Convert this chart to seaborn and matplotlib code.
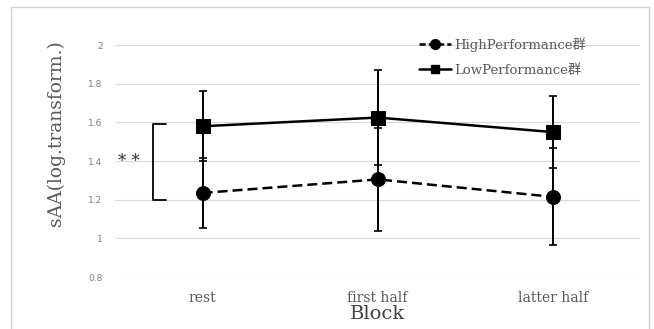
import pandas as pd
import matplotlib
matplotlib.use('Agg')
import matplotlib.pyplot as plt
from matplotlib.lines import Line2D
from matplotlib.patches import Rectangle
import seaborn as sns

blocks = ['rest', 'first half', 'latter half']
high_mean = [1.235, 1.305, 1.215]
high_sd = [0.18, 0.265, 0.25]
low_mean = [1.58, 1.625, 1.55]
low_sd = [0.18, 0.245, 0.185]
groups = ['HighPerformance群', 'LowPerformance群']

sns.set_theme(style='white')
plt.rcParams['font.family'] = ['DejaVu Serif', 'Noto Sans CJK JP']

df = pd.DataFrame({
    'x': list(range(3)) * 2,
    'sAA': high_mean + low_mean,
    'group': [groups[0]] * 3 + [groups[1]] * 3,
})

fig = plt.figure(figsize=(6.54, 3.29), dpi=100)
ax = fig.add_axes([0.176, 0.158, 0.803, 0.705])

# grid
for y in [0.8, 1.0, 1.2, 1.4, 1.6, 1.8, 2.0]:
    ax.axhline(y, color='#d9d9d9', linewidth=0.8, zorder=0)

# error bars (SD)
ax.errorbar(range(3), high_mean, yerr=high_sd, fmt='none', ecolor='black',
            elinewidth=1.4, capsize=3, capthick=1.2, zorder=2)
ax.errorbar(range(3), low_mean, yerr=low_sd, fmt='none', ecolor='black',
            elinewidth=1.4, capsize=3, capthick=1.2, zorder=2)

sns.lineplot(data=df, x='x', y='sAA', hue='group', style='group',
             palette=['black', 'black'], markers=['o', 's'],
             dashes=[(4, 2), ''], markersize=10, linewidth=1.8,
             markeredgecolor='black', legend=False, ax=ax, zorder=3)

ax.set_xlim(-0.5, 2.5)
ax.set_ylim(0.8, 2.0)
ax.set_xticks(range(3))
ax.set_xticklabels(blocks, fontsize=10, color='#595959')
ax.set_yticks([0.8, 1.0, 1.2, 1.4, 1.6, 1.8, 2.0])
ax.set_yticklabels(['0.8', '1', '1.2', '1.4', '1.6', '1.8', '2'],
                   fontsize=6.5, color='#7f7f7f', family='DejaVu Sans')
ax.tick_params(axis='both', length=0)
ax.tick_params(axis='x', pad=10)
ax.tick_params(axis='y', pad=9)
for s in ax.spines.values():
    s.set_visible(False)

ax.set_xlabel('Block', fontsize=14, color='#404040', labelpad=0)
ax.set_ylabel('sAA(log.transform.)', fontsize=13.5, color='#595959')
ax.yaxis.set_label_coords(-0.095, 0.62)

# significance bracket
ax.plot([-0.21, -0.283, -0.283, -0.21], [1.59, 1.59, 1.2, 1.2],
        color='black', lw=1.3, clip_on=False)
ax.text(-0.42, 1.40, '* *', fontsize=12, ha='center', va='center', color='#333333')

handles = [
    Line2D([], [], color='black', lw=1.8, ls=(0, (2.5, 1.2)), marker='o', markersize=7),
    Line2D([], [], color='black', lw=1.8, marker='s', markersize=6),
]
leg = ax.legend(handles, groups, loc='upper right', bbox_to_anchor=(0.92, 1.085),
                frameon=False, fontsize=9.5, handlelength=2.4, handletextpad=0.3,
                labelspacing=0.9)
for t in leg.get_texts():
    t.set_color('#595959')

fig.patches.append(Rectangle((0.017, -0.02), 0.975, 1.0, transform=fig.transFigure,
                             fill=False, edgecolor='#d0d0d0', lw=1))

plt.savefig('out.png', dpi=100)
plt.close()
